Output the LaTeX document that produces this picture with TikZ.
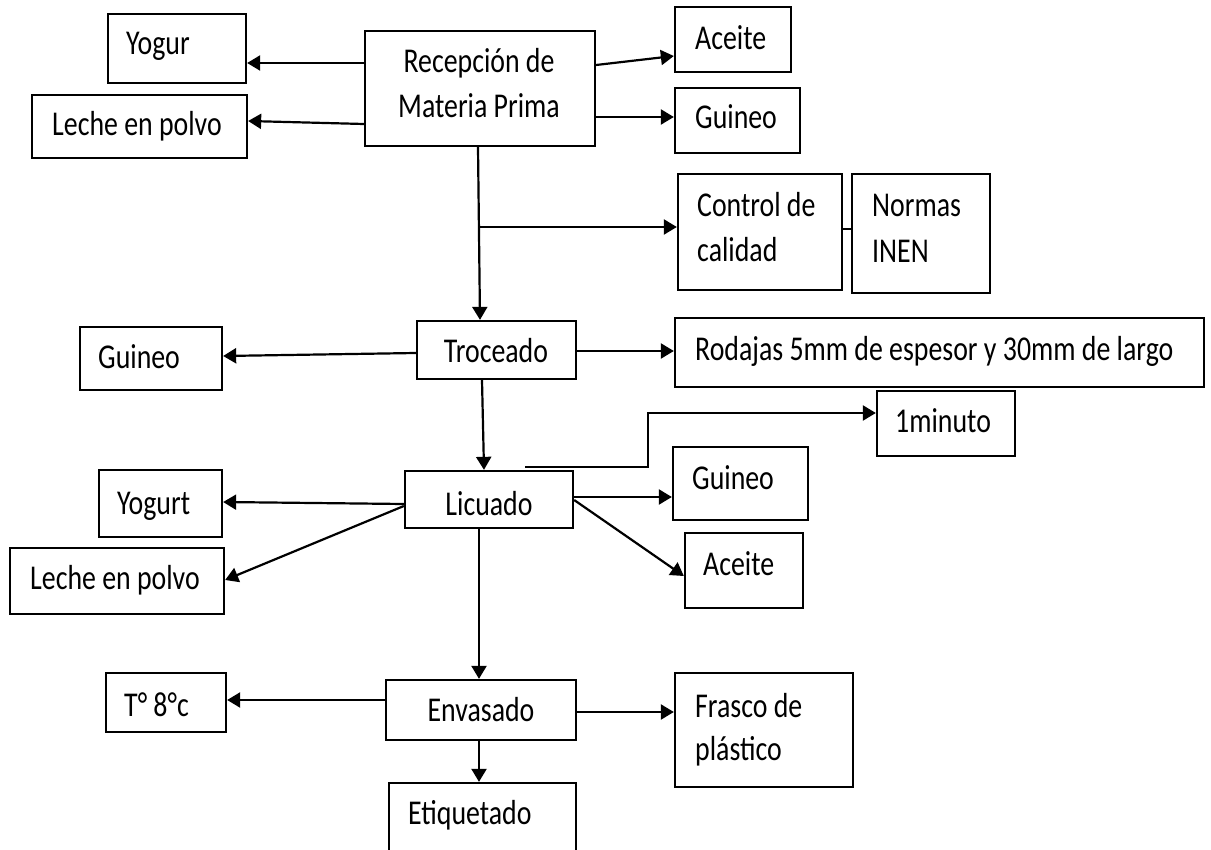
\documentclass[tikz,border=0pt]{standalone}
\usepackage{fontspec}
\setmainfont{Carlito}[FakeStretch=0.8]
\usetikzlibrary{arrows.meta,fit}

\tikzset{
  box/.style={draw=black, line width=2.3pt, inner sep=0pt, fill=none},
  txt/.style={inner sep=0pt, font=\fontsize{34.8}{42}\selectfont, anchor=base west},
  ctxt/.style={txt, anchor=base},
  arr/.style={line width=2.2pt, -{Triangle[length=13pt,width=15pt]}},
  ln/.style={line width=2.2pt}
}
% box by its two corners: name, x1, y1, x2, y2
\newcommand\pbox[5]{\node[box, fit={(#2,#3) (#4,#5)}] (#1) {};}

\begin{document}
\begin{tikzpicture}[x=1pt, y=-1pt]
\useasboundingbox (0,0) rectangle (1211,850);
\fill[white] (0,0) rectangle (1211,850);
\begin{scope}
\clip (0,0) rectangle (1211,850);

% boxes
\pbox{yog}{108}{14}{246}{83}
\pbox{leche1}{32}{95}{247}{158}
\pbox{rec}{365}{31}{595}{146}
\pbox{aceite1}{675}{7}{791}{72}
\pbox{guineo1}{675}{88}{800}{153}
\pbox{control}{678}{174}{842}{290}
\pbox{normas}{852}{174}{990}{293}
\pbox{troc}{417}{321}{576}{379}
\pbox{guineo2}{80}{327}{222}{390}
\pbox{rodajas}{675}{318}{1204}{387}
\pbox{minuto}{877}{391}{1015}{456}
\pbox{lic}{405}{471}{573}{528}
\pbox{yogurt}{99}{470}{222}{537}
\pbox{leche2}{10}{548}{224}{614}
\pbox{guineo3}{673}{447}{808}{520}
\pbox{aceite2}{685}{533}{803}{608}
\pbox{temp}{106}{673}{226}{732}
\pbox{env}{386}{680}{576}{740}
\pbox{frasco}{675}{673}{853}{787}
\pbox{etiq}{389}{783}{576}{866}

% texts
\node[txt] (yog-t) at (126,55) {Yogur};
\node[txt] (leche1-t) at (52,136) {Leche en polvo};
\node[ctxt] (rec-t1) at (479,73) {Recepción de};
\node[ctxt] (rec-t2) at (479,118) {Materia Prima};
\node[txt] (aceite1-t) at (695,50) {Aceite};
\node[txt] (guineo1-t) at (695,129) {Guineo};
\node[txt] (control-t1) at (697,217) {Control de};
\node[txt] (control-t2) at (697,262) {calidad};
\node[txt] (normas-t1) at (872,217) {Normas};
\node[txt] (normas-t2) at (872,263) {INEN};
\node[ctxt] (troc-t) at (496,363) {Troceado};
\node[txt] (guineo2-t) at (98,369) {Guineo};
\node[txt] (rodajas-t) at (695,361) {Rodajas 5mm de espesor y 30mm de largo};
\node[txt] (minuto-t) at (895,432) {1minuto};
\node[ctxt] (lic-t) at (489,515) {Licuado};
\node[txt] (yogurt-t) at (117,514) {Yogurt};
\node[txt] (leche2-t) at (30,589) {Leche en polvo};
\node[txt] (guineo3-t) at (692,489) {Guineo};
\node[txt] (aceite2-t) at (703,575) {Aceite};
\node[txt] (temp-t) at (124,716) {T° 8°c};
\node[ctxt] (env-t) at (481,721) {Envasado};
\node[txt] (frasco-t1) at (695,717) {Frasco de};
\node[txt] (frasco-t2) at (695,760) {plástico};
\node[txt] (etiq-t) at (408,824) {Etiquetado};

% connectors from Recepción
\draw[arr] (rec.west |- 0,63) -- (yog.east |- 0,63);
\draw[arr] (rec.west |- 0,124) -- (leche1.east |- 0,121);
\draw[arr] (rec.east |- 0,65) -- (aceite1.west |- 0,56);
\draw[arr] (rec.east |- 0,117) -- (guineo1.west |- 0,117);
\draw[arr] (rec.south -| 478,0) -- (troc.north -| 480,0);
\coordinate (branch) at (479,227);
\draw[arr] (branch) -- (control.west |- branch);
\draw[ln] (control.east |- 0,229) -- (normas.west |- 0,229);

% connectors from Troceado
\draw[arr] (troc.west |- 0,353) -- (guineo2.east |- 0,356);
\draw[arr] (troc.east |- 0,351) -- (rodajas.west |- 0,351);
\draw[arr] (troc.south -| 482,0) -- (lic.north -| 484,0);

% connectors from Licuado
\coordinate (elbow0) at (525,467);
\coordinate (elbow1) at (648,467);
\draw[arr] (elbow0) -- (elbow1) -- (648,413) -- (minuto.west |- 0,413);
\draw[arr] (lic.east |- 0,497) -- (guineo3.west |- 0,497);
\draw[arr] (lic.east |- 0,500) -- (aceite2.west |- 0,576);
\draw[arr] (lic.west |- 0,504) -- (yogurt.east |- 0,502);
\draw[arr] (lic.west |- 0,506) -- (leche2.east |- 0,580);
\draw[arr] (lic.south -| 479,0) -- (env.north -| 479,0);

% connectors from Envasado
\draw[arr] (env.west |- 0,700) -- (temp.east |- 0,700);
\draw[arr] (env.east |- 0,712) -- (frasco.west |- 0,712);
\draw[arr] (env.south -| 479,0) -- (etiq.north -| 479,0);
\end{scope}
\end{tikzpicture}
\end{document}
